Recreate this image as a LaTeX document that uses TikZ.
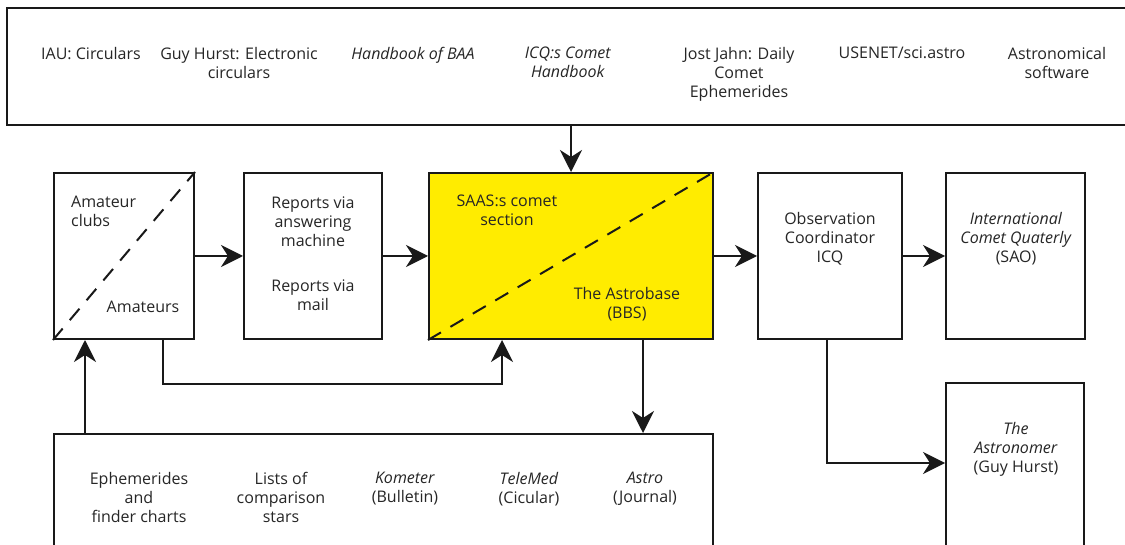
\documentclass[tikz,border=0pt]{standalone}
\usepackage{fontspec}
\setmainfont{Open Sans}
\usetikzlibrary{arrows.meta}
\definecolor{cyellow}{RGB}{255,236,0}

\begin{document}
\begin{tikzpicture}[x=1pt,y=-1pt]
  \tikzset{ box/.style={draw=black!90,line width=2pt,inner sep=0pt},
    txt/.style={align=center,inner sep=0pt,anchor=north,text=black!85,font=\fontsize{16}{19}\selectfont},
    arr/.style={draw=black!90,line width=2pt,-{Stealth[length=22pt,width=22pt,inset=7pt]}},
    diag/.style={draw=black!90,line width=2pt,dash pattern=on 15pt off 11pt},
  }
  \useasboundingbox (0,0) rectangle (1125,545);
  \clip (0,0) rectangle (1125,545);
  \fill[white] (0,0) rectangle (1125,545);

  % the sources on top
  \node[box,minimum width=1128pt,minimum height=117pt] (top) at (571,66.5) {};
  \node[txt] (iau)   at (91,47)   {IAU: Circulars};
  \node[txt] (guy)   at (239,47)  {Guy Hurst: Electronic\\circulars};
  \node[txt] (baa)   at (413,47)  {\textit{Handbook of BAA}};
  \node[txt] (hbook) at (568,47)  {\textit{ICQ:s Comet}\\\textit{Handbook}};
  \node[txt] (jost)  at (739,47)  {Jost Jahn: Daily\\Comet\\Ephemerides};
  \node[txt] (usenet) at (902,47) {USENET/sci.astro};
  \node[txt] (soft)  at (1057,47) {Astronomical\\software};

  % the middle row
  \node[box,minimum width=140pt,minimum height=166pt] (am) at (124,256) {};
  \node[box,minimum width=138pt,minimum height=166pt] (rep) at (313,256) {};
  \node[box,fill=cyellow,minimum width=284pt,minimum height=166pt] (saas) at (571,256) {};
  \node[box,minimum width=144pt,minimum height=166pt] (obs) at (830,256) {};
  \node[box,minimum width=139pt,minimum height=166pt] (icq) at (1015.5,256) {};
  \node[box,minimum width=138pt,minimum height=170pt] (astr) at (1015,468) {};
  \node[box,minimum width=659pt,minimum height=121pt] (pub) at (383.5,494.5) {};

  \draw[diag] (am.south west) -- (am.north east);
  \draw[diag] (saas.south west) -- (saas.north east);

  \node[txt,anchor=north west,align=left] (clubs) at (71,196) {Amateur\\clubs};
  \node[txt] (amat)    at (143,301) {Amateurs};
  \node[txt] (repans)  at (313,197) {Reports via\\answering\\machine};
  \node[txt] (repmail) at (313,280) {Reports via\\mail};
  \node[txt] (sect)    at (507,195) {SAAS:s comet\\section};
  \node[txt] (bbs)     at (627,287) {The Astrobase\\(BBS)};
  \node[txt] (coord)   at (830,212) {Observation\\Coordinator\\ICQ};
  \node[txt] (quat)    at (1016,212) {\textit{International}\\\textit{Comet Quaterly}\\(SAO)};
  \node[txt] (hurst)   at (1016,422) {\textit{The}\\\textit{Astronomer}\\(Guy Hurst)};

  % the publications at the bottom
  \node[txt] (eph)   at (139,472) {Ephemerides\\and\\finder charts};
  \node[txt] (lists) at (281,472) {Lists of\\comparison\\stars};
  \node[txt] (kom)   at (405,472) {\textit{Kometer}\\(Bulletin)};
  \node[txt] (tele)  at (529,472) {\textit{TeleMed}\\(Cicular)};
  \node[txt] (astro) at (645,472) {\textit{Astro}\\(Journal)};

  % the connections between the boxes
  \coordinate (amturn) at (163,384);
  \coordinate (saturn) at (502,384);
  \coordinate (upx) at (85,400);
  \coordinate (dnx) at (643,400);
  \coordinate (obsturn) at (827,463);

  \draw[arr] (top.south -| saas.north) -- (saas.north);
  \draw[arr] (am.east) -- (rep.west);
  \draw[arr] (rep.east) -- (saas.west);
  \draw[arr] (saas.east) -- (obs.west);
  \draw[arr] (obs.east) -- (icq.west);
  \draw[arr] (am.south -| amturn) -- (amturn) -- (saturn) -- (saas.south -| saturn);
  \draw[arr] (pub.north -| upx) -- (am.south -| upx);
  \draw[arr] (saas.south -| dnx) -- (pub.north -| dnx);
  \draw[arr] (obs.south -| obsturn) -- (obsturn) -- (astr.west |- obsturn);
\end{tikzpicture}
\end{document}
